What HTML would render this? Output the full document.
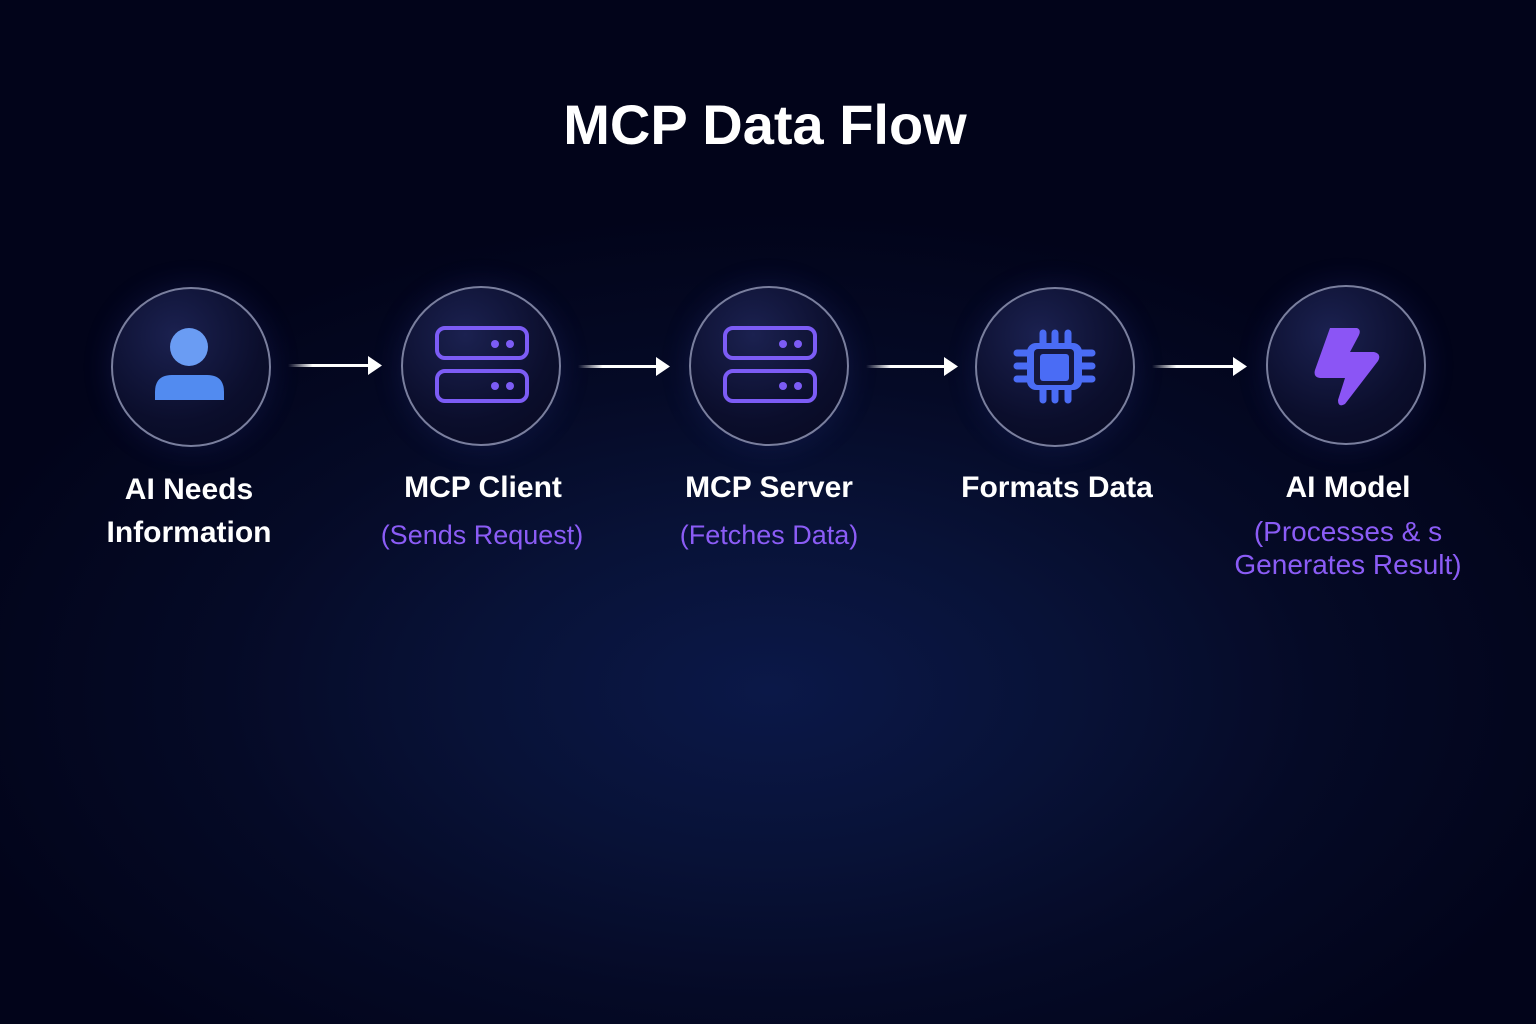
<!DOCTYPE html>
<html><head><meta charset="utf-8"><style>
html,body{margin:0;padding:0}
body{width:1536px;height:1024px;overflow:hidden;position:relative;font-family:"Liberation Sans",sans-serif;
background:radial-gradient(ellipse 850px 480px at 770px 690px,#0b1848 0%,#081237 35%,#050a26 65%,#02041a 100%);}
.t{position:absolute;color:#fff;text-align:center;white-space:nowrap}
.title{left:0;width:1530px;top:92px;font-size:56px;font-weight:bold}
.c{position:absolute;width:156px;height:156px;border-radius:50%;border:2px solid #7a7f9e;
background:radial-gradient(circle at 40% 30%,#1b2150 0%,#0b0e2c 60%,#070920 100%);box-shadow:0 0 30px rgba(60,70,180,0.2)}
.l{font-size:30px;font-weight:bold;width:300px}
.s{font-size:27px;color:#8b5cf6;width:320px}
</style></head><body>
<div class="t title">MCP Data Flow</div>

<div class="c" style="left:111px;top:287px"></div>
<div class="c" style="left:401px;top:286px"></div>
<div class="c" style="left:689px;top:286px"></div>
<div class="c" style="left:975px;top:287px"></div>
<div class="c" style="left:1266px;top:285px"></div>

<svg width="1536" height="1024" style="position:absolute;left:0;top:0">
<defs><linearGradient id="ar" x1="0" x2="1"><stop offset="0" stop-color="#fff" stop-opacity="0"/><stop offset="0.3" stop-color="#fff"/></linearGradient></defs>
<circle cx="189" cy="347" r="19" fill="#6a9cf3"/>
<path d="M155 400 L155 392 Q155 375 172 375 L207 375 Q224 375 224 392 L224 400 Z" fill="#528bf0"/>
<g fill="none" stroke="#7c5cf5" stroke-width="4">
<rect x="437" y="328" width="90" height="30" rx="8"/><rect x="437" y="371" width="90" height="30" rx="8"/>
<rect x="725" y="328" width="90" height="30" rx="8"/><rect x="725" y="371" width="90" height="30" rx="8"/>
</g>
<g fill="#7c5cf5"><circle cx="495" cy="344" r="4"/><circle cx="510" cy="344" r="4"/><circle cx="495" cy="386" r="4"/><circle cx="510" cy="386" r="4"/>
<circle cx="783" cy="344" r="4"/><circle cx="798" cy="344" r="4"/><circle cx="783" cy="386" r="4"/><circle cx="798" cy="386" r="4"/></g>
<g stroke="#4a6cf5" stroke-width="7" stroke-linecap="round" fill="none">
<line x1="1043" y1="333" x2="1043" y2="400"/><line x1="1055" y1="333" x2="1055" y2="400"/><line x1="1068" y1="333" x2="1068" y2="400"/>
<line x1="1017" y1="353" x2="1092" y2="353"/><line x1="1017" y1="366" x2="1092" y2="366"/><line x1="1017" y1="379" x2="1092" y2="379"/>
</g>
<rect x="1027" y="343" width="55" height="47" rx="9" fill="#4a6cf5"/>
<rect x="1034" y="349" width="40" height="36" rx="4" fill="#15183f"/>
<rect x="1040" y="354" width="29" height="27" rx="3" fill="#4a6cf5"/>
<path d="M1330 328 L1357 328 Q1362 330 1358 337 L1350 352 L1374 352 Q1382 354 1378 361 L1345 404 Q1338 408 1338 400 L1345 378 L1320 378 Q1313 377 1315 370 Z" fill="#8b55f5"/>
<g fill="#fff">
<rect x="288" y="364" width="82" height="3" fill="url(#ar)"/><polygon points="368,356 382,365.5 368,375"/>
<rect x="578" y="365" width="82" height="3" fill="url(#ar)"/><polygon points="656,357 670,366.5 656,376"/>
<rect x="866" y="365" width="82" height="3" fill="url(#ar)"/><polygon points="944,357 958,366.5 944,376"/>
<rect x="1152" y="365" width="82" height="3" fill="url(#ar)"/><polygon points="1233,357 1247,366.5 1233,376"/>
</g>
</svg>

<div class="t l" style="left:39px;top:468px;line-height:43px">AI Needs<br>Information</div>
<div class="t l" style="left:333px;top:471px">MCP Client</div>
<div class="t s" style="left:322px;top:520px">(Sends Request)</div>
<div class="t l" style="left:619px;top:471px">MCP Server</div>
<div class="t s" style="left:609px;top:520px">(Fetches Data)</div>
<div class="t l" style="left:907px;top:471px">Formats Data</div>
<div class="t l" style="left:1198px;top:471px">AI Model</div>
<div class="t s" style="left:1188px;top:515px;line-height:33px;font-size:28px">(Processes &amp; s<br>Generates Result)</div>
</body></html>
